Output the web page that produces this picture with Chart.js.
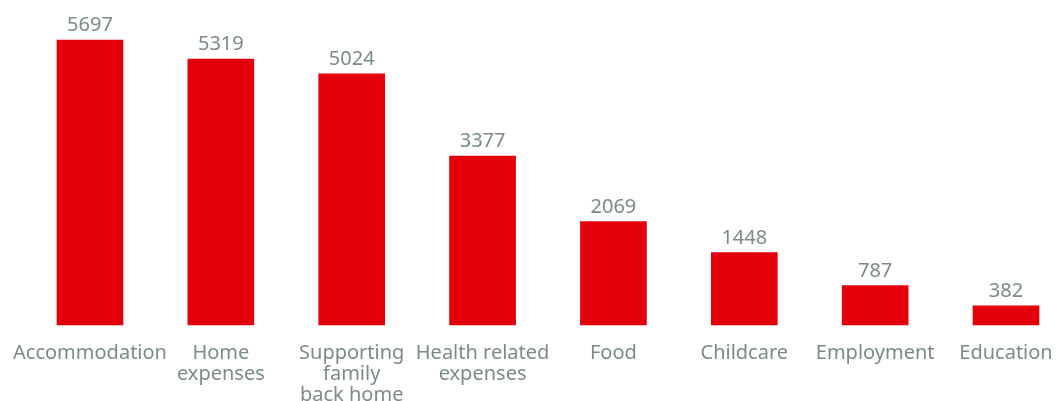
<!DOCTYPE html>
<html>
<head>
<meta charset="utf-8">
<script src="https://cdn.jsdelivr.net/npm/chart.js@4"></script>
<style>
  body { margin: 0; background: #fff; }
  #wrap { width: 1062px; height: 401px; }
</style>
</head>
<body>
<div id="wrap"><canvas id="myChart"></canvas></div>
<script>
'use strict';
let categories = ['Accommodation', ['Home', 'expenses'], ['Supporting', 'family', 'back home'], ['Health related', 'expenses'], 'Food', 'Childcare', 'Employment', 'Education'];
let values = [5697, 5319, 5024, 3377, 2069, 1448, 787, 382];

let textColor = '#7b8b89';
let barColor = '#e3000b';
let fontName = 'Noto Sans';

// draws the number on top of each bar
let valueLabels = {
    id: 'valueLabels',
    afterDatasetsDraw(chart) {
        let ctx = chart.ctx;
        let meta = chart.getDatasetMeta(0);
        ctx.save();
        ctx.font = '20px "' + fontName + '"';
        ctx.fillStyle = textColor;
        ctx.textAlign = 'center';
        ctx.textBaseline = 'alphabetic';
        meta.data.forEach(function (bar, i) {
            ctx.fillText(values[i], bar.x, bar.y - 9);
        });
        ctx.restore();
    }
};

let ctx = document.getElementById('myChart').getContext('2d');
let myChart = new Chart(ctx, {
    type: 'bar',
    data: {
        labels: categories,
        datasets: [{
            data: values,
            backgroundColor: barColor,
            borderWidth: 0,
            barThickness: 66,
            clip: false
        }]
    },
    options: {
        responsive: true,
        maintainAspectRatio: false,
        animation: false,
        layout: { padding: { left: 90, right: 56, top: 0, bottom: 0 } },
        plugins: {
            legend: { display: false },
            tooltip: { enabled: false }
        },
        scales: {
            x: {
                offset: false,
                grid: { display: false, drawTicks: false },
                border: { display: false },
                ticks: {
                    color: textColor,
                    font: { family: fontName, size: 20, lineHeight: 1.05 },
                    padding: 18,
                    maxRotation: 0,
                    autoSkip: false
                },
                afterFit(scale) {
                    scale.height = 76;
                    scale.paddingLeft = 0;
                    scale.paddingRight = 0;
                }
            },
            y: {
                display: false,
                min: 0,
                max: 6500
            }
        }
    },
    plugins: [valueLabels]
});
</script>
</body>
</html>
